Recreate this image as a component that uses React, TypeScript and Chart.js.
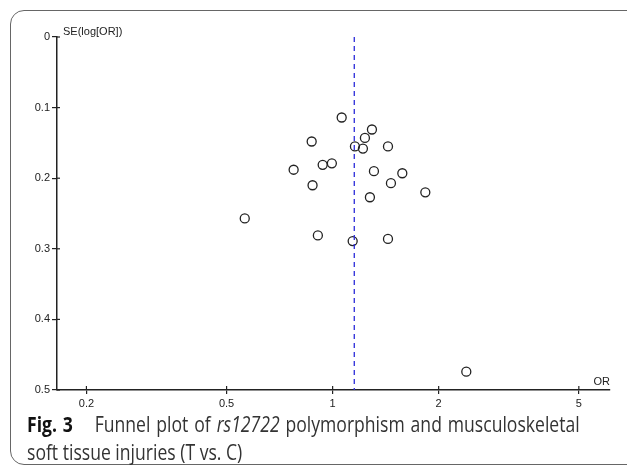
import React, { useEffect, useRef } from "react";
import { Chart, registerables } from "chart.js";

Chart.register(...registerables);

const orValues = [1.061, 1.293, 1.235, 0.872, 1.157, 1.219, 1.436, 0.775, 0.937, 0.995, 1.310, 1.577, 0.877, 1.464, 1.833, 1.276, 0.563, 0.908, 1.140, 1.436, 2.396];
const seValues = [0.114, 0.131, 0.143, 0.148, 0.155, 0.158, 0.155, 0.188, 0.181, 0.179, 0.190, 0.193, 0.210, 0.207, 0.220, 0.227, 0.257, 0.281, 0.289, 0.286, 0.474];
const pooledOR = 1.152;
const xTicks = [0.2, 0.5, 1, 2, 5];
const yTicks = [0, 0.1, 0.2, 0.3, 0.4, 0.5];
const xMin = 0.165;
const xMax = 6.13;

const tickFont = { family: "'Liberation Sans', Arial, sans-serif", size: 11 };
const ink = "#222";

const extrasPlugin = {
  id: "extras",
  afterDraw(chart: any) {
    const { ctx, chartArea, scales } = chart;
    ctx.save();
    ctx.strokeStyle = ink;
    ctx.lineWidth = 1.2;
    scales.y.ticks.forEach((t: any) => {
      const py = scales.y.getPixelForValue(t.value);
      ctx.beginPath();
      ctx.moveTo(chartArea.left, py);
      ctx.lineTo(chartArea.left + 3, py);
      ctx.stroke();
    });
    scales.x.ticks.forEach((t: any) => {
      const px = scales.x.getPixelForValue(t.value);
      ctx.beginPath();
      ctx.moveTo(px, chartArea.bottom);
      ctx.lineTo(px, chartArea.bottom - 4);
      ctx.stroke();
    });
    ctx.fillStyle = ink;
    ctx.font = "11px 'Liberation Sans', Arial, sans-serif";
    ctx.textBaseline = "middle";
    ctx.textAlign = "left";
    ctx.fillText("SE(log[OR])", chartArea.left + 6, chartArea.top - 5);
    ctx.textAlign = "right";
    ctx.fillText("OR", chartArea.right, chartArea.bottom - 8);
    ctx.restore();
  },
};

export default function App() {
  const ref = useRef<HTMLCanvasElement | null>(null);

  useEffect(() => {
    if (!ref.current) return;
    const points = orValues.map((x, i) => ({ x, y: seValues[i] }));
    const chart = new Chart(ref.current, {
      type: "scatter",
      data: {
        datasets: [
          {
            type: "line",
            data: [
              { x: pooledOR, y: 0 },
              { x: pooledOR, y: 0.5 },
            ],
            borderColor: "#2b2bd9",
            borderWidth: 1.3,
            borderDash: [5, 4],
            pointRadius: 0,
            fill: false,
            showLine: true,
          } as any,
          {
            data: points,
            pointStyle: "circle",
            pointRadius: 4.5,
            borderColor: ink,
            borderWidth: 1.3,
            backgroundColor: "rgba(0,0,0,0)",
          },
        ],
      },
      options: {
        animation: false,
        responsive: false,
        maintainAspectRatio: false,
        layout: { padding: { left: 0, top: 37, right: 17, bottom: 0 } },
        plugins: { legend: { display: false }, tooltip: { enabled: false } },
        scales: {
          x: {
            type: "logarithmic",
            min: xMin,
            max: xMax,
            afterBuildTicks: (scale: any) => {
              scale.ticks = xTicks.map((v) => ({ value: v }));
            },
            afterFit: (scale: any) => {
              scale.height = 22;
            },
            ticks: {
              font: tickFont,
              color: ink,
              padding: 3,
              autoSkip: false,
              maxRotation: 0,
              callback: (v: any) => String(v),
            },
            grid: { drawOnChartArea: false, drawTicks: true, tickLength: 4, color: ink, lineWidth: 1.2 },
            border: { display: true, color: ink, width: 1.5 },
          },
          y: {
            type: "linear",
            reverse: true,
            min: 0,
            max: 0.5,
            afterBuildTicks: (scale: any) => {
              scale.ticks = yTicks.map((v) => ({ value: v }));
            },
            afterFit: (scale: any) => {
              scale.width = 57;
            },
            ticks: {
              font: tickFont,
              color: ink,
              padding: 2,
              callback: (v: any) => (v === 0 ? "0" : Number(v).toFixed(1)),
            },
            grid: { drawOnChartArea: false, drawTicks: true, tickLength: 5, color: ink, lineWidth: 1.2 },
            border: { display: true, color: ink, width: 1.5 },
          },
        },
      } as any,
      plugins: [extrasPlugin],
    });
    return () => chart.destroy();
  }, []);

  return (
    <div style={{ position: "fixed", left: 0, top: 0, width: 627, height: 471, background: "#fff", overflow: "hidden" }}>
      <div
        style={{
          position: "absolute",
          left: 10,
          top: 10,
          width: 650,
          height: 455,
          border: "1.5px solid #666",
          borderRadius: 14,
          boxSizing: "border-box",
        }}
      />
      <canvas ref={ref} width={627} height={412} style={{ position: "absolute", left: 0, top: 0, width: 627, height: 412 }} />
      <div
        style={{
          position: "absolute",
          left: 27,
          top: 410,
          fontFamily: "'Open Sans', sans-serif",
          fontSize: 21,
          lineHeight: "28px",
          color: "#333",
          whiteSpace: "nowrap",
          transform: "scaleX(0.837)",
          transformOrigin: "0 0",
        }}
      >
        <div style={{ wordSpacing: "1.6px" }}>
          <b style={{ color: "#111" }}>Fig. 3</b>
          <span style={{ display: "inline-block", width: 26 }} />
          {"Funnel plot of "}
          <i>rs12722</i>
          {" polymorphism and musculoskeletal"}
        </div>
        <div>soft tissue injuries (T vs. C)</div>
      </div>
    </div>
  );
}
